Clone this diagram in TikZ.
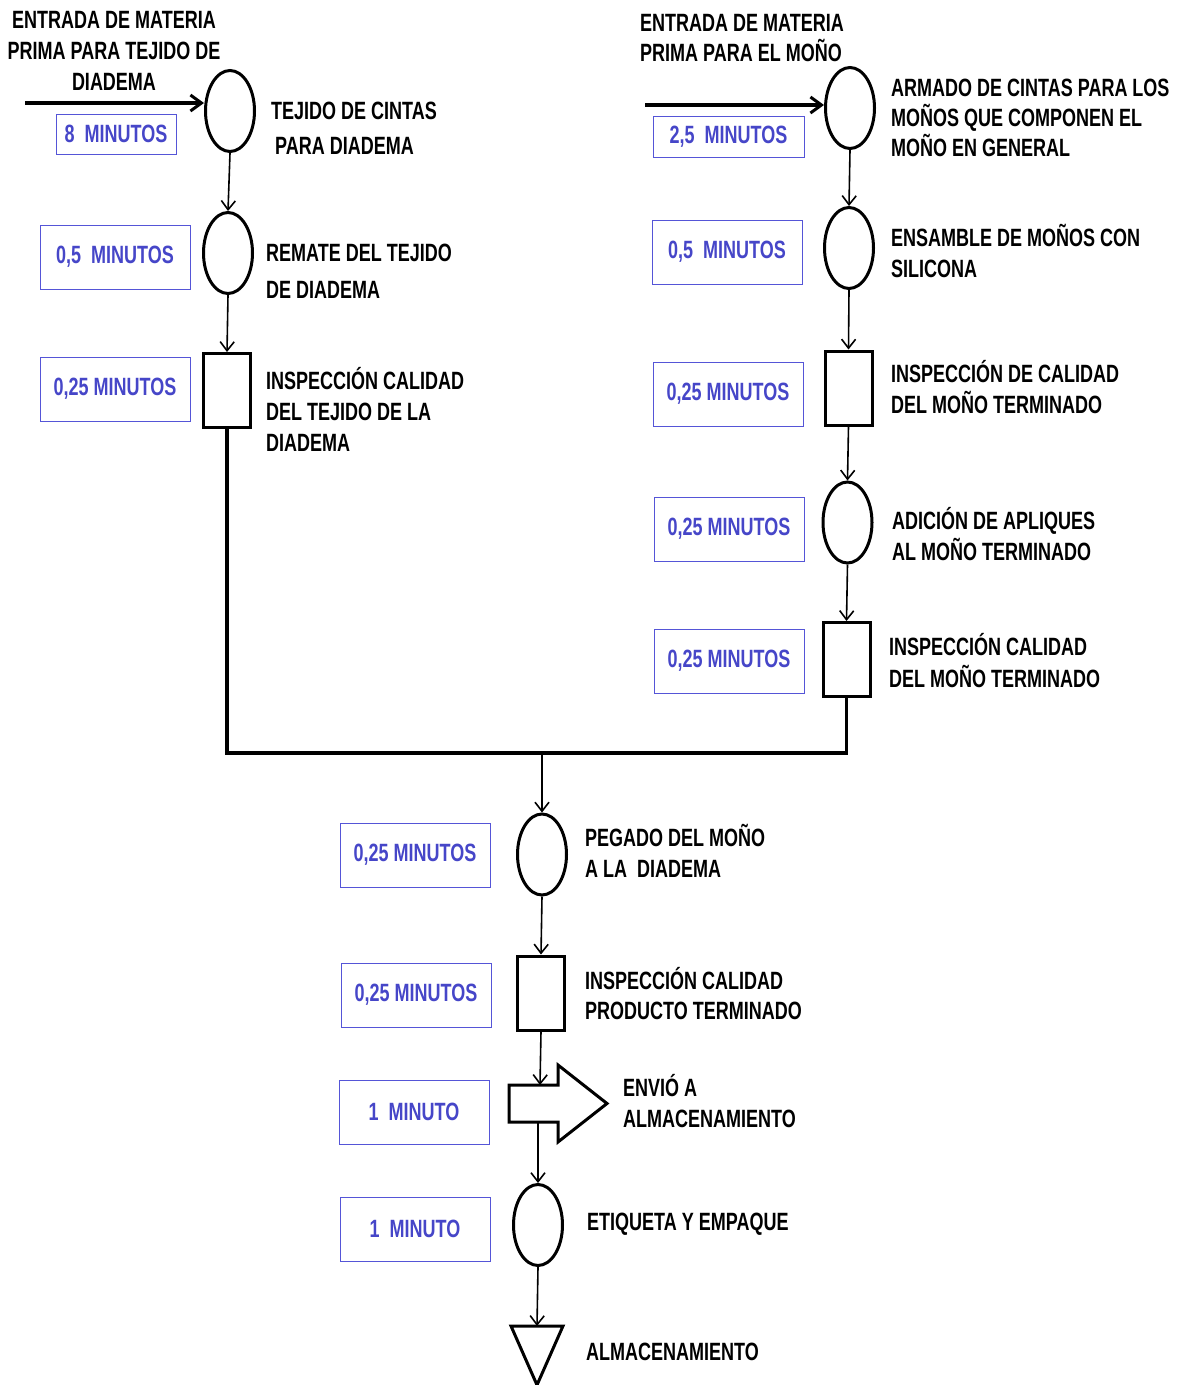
\documentclass[tikz,border=0pt]{standalone}
\usepackage{fontspec}
\setmainfont{Liberation Sans}[FakeStretch=0.72]
\usetikzlibrary{arrows.meta,shapes.geometric}
\definecolor{minblue}{RGB}{85,85,215}
\definecolor{mintext}{RGB}{70,70,200}
\tikzset{
  opcircle/.style={draw,ellipse,line width=3pt,minimum width=49pt,minimum height=81pt,inner sep=0pt},
  inspbox/.style={draw,rectangle,line width=3pt,minimum width=47pt,minimum height=74pt,inner sep=0pt},
  timebox/.style={draw=minblue,line width=1pt,minimum width=150pt,minimum height=64pt,inner sep=0pt,text=mintext},
  steptext/.style={anchor=base west,align=left,inner sep=0pt},
  flow/.style={-{Straight Barb[length=9pt,width=14pt]},line width=1.6pt},
  feed/.style={-{Straight Barb[length=11pt,width=16pt,line width=3pt]},line width=4pt},
  joinline/.style={line width=3.5pt},
  shapeline/.style={line width=3pt,line join=miter}
}

\begin{document}
\begin{tikzpicture}[x=1pt,y=-1pt,font=\bfseries\fontsize{25}{31}\selectfont]
  \useasboundingbox (0,0) rectangle (1183,1385);

  % diadema
  \node[align=center,anchor=base,inner sep=0pt] (inlbl1) at (114,90) {ENTRADA DE MATERIA\\PRIMA PARA TEJIDO DE\\DIADEMA};
  \coordinate (in1) at (25,103);
  \node[opcircle] (c1) at (230,111) {};
  \node[opcircle] (c2) at (228,253) {};
  \node[inspbox] (s1) at (227,390.5) {};
  \node[timebox,minimum width=120pt,minimum height=40pt] (t1) at (116,134) {8\ \ MINUTOS};
  \node[timebox] (t2) at (115,257) {0,5\ \ MINUTOS};
  \node[timebox] (t3) at (115,389) {0,25\ MINUTOS};
  \node[steptext] (l1) at (271,154) {TEJIDO DE CINTAS\\[4pt]\hspace{4pt}PARA DIADEMA};
  \node[steptext] (l2) at (266,298) {REMATE DEL TEJIDO\\[6pt]DE DIADEMA};
  \node[steptext] (l3) at (266,451) {INSPECCIÓN CALIDAD\\DEL TEJIDO DE LA\\DIADEMA};

  \draw[feed] (in1) -- (in1 -| c1.west);
  \draw[flow] (c1.south) -- (c2.north);
  \draw[flow] (c2.south) -- (s1.north);

  % mono
  \node[steptext] (inlbl2) at (640,61) {ENTRADA DE MATERIA\\[-1pt]PRIMA PARA EL MOÑO};
  \coordinate (in2) at (645,105);
  \node[opcircle] (c3) at (850,108) {};
  \node[opcircle] (c4) at (849,248) {};
  \node[inspbox] (s2) at (848.5,388) {};
  \node[opcircle] (c5) at (847.5,522.5) {};
  \node[inspbox] (s3) at (846.5,659.5) {};
  \node[timebox,minimum width=151pt,minimum height=41pt] (t4) at (728.5,136.5) {2,5\ \ MINUTOS};
  \node[timebox] (t5) at (727,252) {0,5\ \ MINUTOS};
  \node[timebox] (t6) at (728,394) {0,25\ MINUTOS};
  \node[timebox] (t7) at (729,529) {0,25\ MINUTOS};
  \node[timebox] (t8) at (729,661) {0,25\ MINUTOS};
  \node[steptext] (l4) at (891,156) {ARMADO DE CINTAS PARA LOS\\[-1pt]MOÑOS QUE COMPONEN EL\\[-1pt]MOÑO EN GENERAL};
  \node[steptext] (l5) at (891,277) {ENSAMBLE DE MOÑOS CON\\SILICONA};
  \node[steptext] (l6) at (891,413) {INSPECCIÓN DE CALIDAD\\DEL MOÑO TERMINADO};
  \node[steptext] (l7) at (892,560) {ADICIÓN DE APLIQUES\\AL MOÑO TERMINADO};
  \node[steptext] (l8) at (889,687) {INSPECCIÓN CALIDAD\\[1pt]DEL MOÑO TERMINADO};

  \draw[feed] (in2) -- (in2 -| c3.west);
  \draw[flow] (c3.south) -- (c4.north);
  \draw[flow] (c4.south) -- (s2.north);
  \draw[flow] (s2.south) -- (c5.north);
  \draw[flow] (c5.south) -- (s3.north);

  % union
  \coordinate (join) at (542,753);
  \draw[joinline] (s1.south) |- (join) -| (s3.south);

  \node[opcircle] (c6) at (542,854.5) {};
  \node[inspbox] (s4) at (541,993) {};
  \coordinate (sendtop) at (540,1085);
  \coordinate (sendbot) at (538,1122);
  \draw[shapeline] (509,1085) -- (558,1085) -- (558,1065) -- (607,1103.5) -- (558,1142) -- (558,1122) -- (509,1122) -- cycle;
  \node[opcircle] (c7) at (538,1225) {};
  \coordinate (storetop) at (537,1326);
  \draw[shapeline] (511,1326) -- (563,1326) -- (537,1385) -- cycle;

  \node[timebox] (t9) at (415,855) {0,25\ MINUTOS};
  \node[timebox] (t10) at (416,995) {0,25\ MINUTOS};
  \node[timebox] (t11) at (414,1112) {1\ \ MINUTO};
  \node[timebox] (t12) at (415,1229) {1\ \ MINUTO};
  \node[steptext] (l9) at (585,877) {PEGADO DEL MOÑO\\A LA\ \ DIADEMA};
  \node[steptext] (l10) at (585,1019) {INSPECCIÓN CALIDAD\\[-1pt]PRODUCTO TERMINADO};
  \node[steptext] (l11) at (623,1127) {ENVIÓ A\\ALMACENAMIENTO};
  \node[steptext] (l12) at (587,1230) {ETIQUETA Y EMPAQUE};
  \node[steptext] (l13) at (586,1360) {ALMACENAMIENTO};

  \draw[flow] (join) -- (c6.north);
  \draw[flow] (c6.south) -- (s4.north);
  \draw[flow] (s4.south) -- (sendtop);
  \draw[flow] (sendbot) -- (c7.north);
  \draw[flow] (c7.south) -- (storetop);
\end{tikzpicture}
\end{document}
